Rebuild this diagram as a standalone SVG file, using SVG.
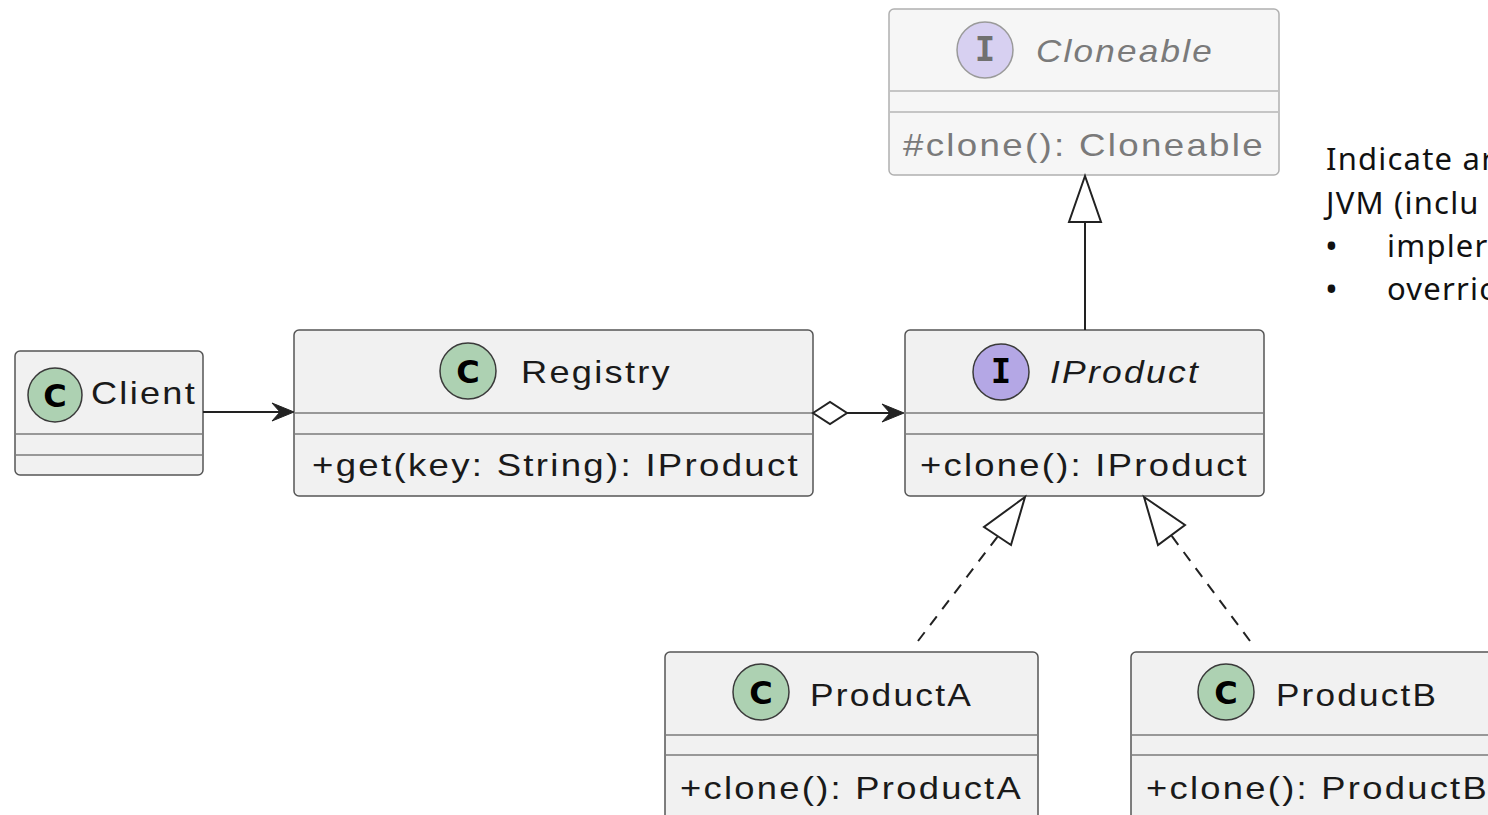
<svg xmlns="http://www.w3.org/2000/svg" width="1488" height="815" viewBox="0 0 1488 815">
  <style>
    .box { fill: #F1F1F1; stroke: #555; stroke-width: 1.5; }
    .faded .box { fill: #F6F6F6; stroke: #b0b0b0; }
    .div { stroke: #7a7a7a; stroke-width: 1.5; }
    .faded .div { stroke: #b5b5b5; }
    .t { font-family: "Liberation Sans", Arial, sans-serif; font-size: 32px; letter-spacing: 2px; fill: #1a1a1a; }
    .faded .t { fill: #7a7a7a; }
    .it { font-style: italic; }
    .cc { fill: #ADD1B2; stroke: #3a3a3a; stroke-width: 1.5; }
    .ic { fill: #B4A7E5; stroke: #3a3a3a; stroke-width: 1.5; }
    .faded .ic { fill: #D7D0F1; stroke: #9a9a9a; }
    .glyph { font-family: "DejaVu Sans", "Liberation Sans", sans-serif; font-weight: bold; font-size: 32px; fill: #000; text-anchor: middle; }
    .iglyph { font-family: "DejaVu Sans Mono", "Liberation Mono", monospace; font-weight: bold; font-size: 34px; fill: #000; text-anchor: middle; }
    .faded .iglyph { fill: #707070; }
    .ln { stroke: #222; stroke-width: 2; fill: none; }
    .dash { stroke: #222; stroke-width: 2; fill: none; stroke-dasharray: 11 9; }
    .head { fill: #222; stroke: #222; stroke-width: 1; }
    .hollow { fill: #fff; stroke: #222; stroke-width: 2; }
    .note { font-family: "Noto Sans", "Open Sans", sans-serif; font-size: 31px; letter-spacing: 1.2px; fill: #111; }
    .bullet { font-family: "Noto Sans", "Open Sans", sans-serif; font-size: 34px; fill: #111; }
  </style>

  <!-- Cloneable interface (java.lang, drawn muted) -->
  <g id="Cloneable" class="faded">
    <rect class="box" x="889" y="9" width="390" height="166" rx="5"/>
    <circle class="ic" cx="985" cy="50" r="28"/>
    <text class="iglyph" x="985" y="61">I</text>
    <text class="t it" x="1036" y="62" textLength="178" lengthAdjust="spacingAndGlyphs">Cloneable</text>
    <line class="div" x1="890" y1="91" x2="1278" y2="91"/>
    <line class="div" x1="890" y1="112" x2="1278" y2="112"/>
    <text class="t" x="903" y="156" textLength="362" lengthAdjust="spacingAndGlyphs">#clone(): Cloneable</text>
  </g>

  <!-- Client -->
  <g id="Client">
    <rect class="box" x="15" y="351" width="188" height="124" rx="5"/>
    <circle class="cc" cx="55" cy="395" r="27"/>
    <text class="glyph" x="55" y="407">C</text>
    <text class="t" x="91" y="404" textLength="106" lengthAdjust="spacingAndGlyphs">Client</text>
    <line class="div" x1="16" y1="434" x2="202" y2="434"/>
    <line class="div" x1="16" y1="455" x2="202" y2="455"/>
  </g>

  <!-- Registry -->
  <g id="Registry">
    <rect class="box" x="294" y="330" width="519" height="166" rx="5"/>
    <circle class="cc" cx="468" cy="371" r="28"/>
    <text class="glyph" x="468" y="383">C</text>
    <text class="t" x="521" y="383" textLength="151" lengthAdjust="spacingAndGlyphs">Registry</text>
    <line class="div" x1="295" y1="413" x2="812" y2="413"/>
    <line class="div" x1="295" y1="434" x2="812" y2="434"/>
    <text class="t" x="312" y="476" textLength="488" lengthAdjust="spacingAndGlyphs">+get(key: String): IProduct</text>
  </g>

  <!-- IProduct interface -->
  <g id="IProduct">
    <rect class="box" x="905" y="330" width="359" height="166" rx="5"/>
    <circle class="ic" cx="1001" cy="372" r="28"/>
    <text class="iglyph" x="1001" y="383">I</text>
    <text class="t it" x="1050" y="383" textLength="150" lengthAdjust="spacingAndGlyphs">IProduct</text>
    <line class="div" x1="906" y1="413" x2="1263" y2="413"/>
    <line class="div" x1="906" y1="434" x2="1263" y2="434"/>
    <text class="t" x="920" y="476" textLength="329" lengthAdjust="spacingAndGlyphs">+clone(): IProduct</text>
  </g>

  <!-- ProductA -->
  <g id="ProductA">
    <rect class="box" x="665" y="652" width="373" height="180" rx="5"/>
    <circle class="cc" cx="761" cy="692" r="28"/>
    <text class="glyph" x="761" y="704">C</text>
    <text class="t" x="810" y="706" textLength="163" lengthAdjust="spacingAndGlyphs">ProductA</text>
    <line class="div" x1="666" y1="735" x2="1037" y2="735"/>
    <line class="div" x1="666" y1="755" x2="1037" y2="755"/>
    <text class="t" x="680" y="799" textLength="343" lengthAdjust="spacingAndGlyphs">+clone(): ProductA</text>
  </g>

  <!-- ProductB -->
  <g id="ProductB">
    <rect class="box" x="1131" y="652" width="373" height="180" rx="5"/>
    <circle class="cc" cx="1226" cy="692" r="28"/>
    <text class="glyph" x="1226" y="704">C</text>
    <text class="t" x="1276" y="706" textLength="162" lengthAdjust="spacingAndGlyphs">ProductB</text>
    <line class="div" x1="1132" y1="735" x2="1503" y2="735"/>
    <line class="div" x1="1132" y1="755" x2="1503" y2="755"/>
    <text class="t" x="1146" y="799" textLength="343" lengthAdjust="spacingAndGlyphs">+clone(): ProductB</text>
  </g>

  <!-- Relations -->
  <g id="connectors">
    <!-- Client uses Registry -->
    <line class="ln" x1="203" y1="412" x2="286" y2="412"/>
    <polygon class="head" points="294,412 272,403 280,412 272,421"/>

    <!-- Registry aggregates IProduct -->
    <polygon class="hollow" points="813,413 830,402 847,413 830,424"/>
    <line class="ln" x1="847" y1="413" x2="896" y2="413"/>
    <polygon class="head" points="904,413 882,404 890,413 882,422"/>

    <!-- IProduct extends Cloneable -->
    <line class="ln" x1="1085" y1="330" x2="1085" y2="222"/>
    <polygon class="hollow" points="1085,176 1069,222 1101,222"/>

    <!-- ProductA implements IProduct -->
    <line class="dash" x1="918" y1="641" x2="998" y2="536"/>
    <polygon class="hollow" points="1025,497 984,527 1011,545"/>

    <!-- ProductB implements IProduct -->
    <line class="dash" x1="1250" y1="641" x2="1171" y2="535"/>
    <polygon class="hollow" points="1144,497 1185,525 1158,545"/>
  </g>

  <!-- Side note -->
  <g id="note">
    <text class="note" x="1326" y="170">Indicate ar</text>
    <text class="note" x="1326" y="214">JVM (inclu</text>
    <text class="bullet" x="1325" y="258">•</text>
    <text class="note" x="1387" y="257">impler</text>
    <text class="bullet" x="1325" y="301">•</text>
    <text class="note" x="1387" y="300">overric</text>
  </g>
</svg>
